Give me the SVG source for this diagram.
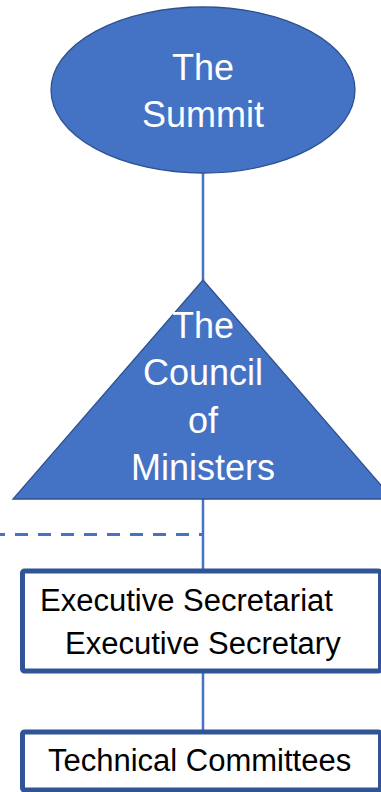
<svg xmlns="http://www.w3.org/2000/svg" width="381" height="792" viewBox="0 0 381 792">
  <style>
    .shape { fill: #4472C4; stroke: #2F528F; stroke-width: 1.3; }
    .wtxt { font-family: "Liberation Sans", Arial, sans-serif; font-size: 36px; fill: #FFFFFF; text-anchor: middle; }
    .btxt { font-family: "Liberation Sans", Arial, sans-serif; font-size: 31px; fill: #000000; }
    .box { fill: #FFFFFF; stroke: #2F5597; stroke-width: 5; }
    .conn { stroke: #4472C4; stroke-width: 2.5; fill: none; }
    .dash { stroke: #4472C4; stroke-width: 3; fill: none; stroke-dasharray: 13 10; stroke-dashoffset: 8; }
  </style>
  <rect width="381" height="792" fill="#FFFFFF"/>
  <g id="connectors">
    <line class="conn" x1="203" y1="172" x2="203" y2="281"/>
    <line class="conn" x1="203" y1="499" x2="203" y2="571"/>
    <line class="dash" x1="0" y1="534.5" x2="203" y2="534.5"/>
    <line class="conn" x1="203" y1="671" x2="203" y2="732"/>
  </g>
  <g id="summit">
    <ellipse class="shape" cx="203" cy="90" rx="152" ry="83"/>
    <text class="wtxt" x="203" y="80">The</text>
    <text class="wtxt" x="203" y="127">Summit</text>
  </g>
  <g id="council">
    <polygon class="shape" points="203,280 393,499 13,499"/>
    <text class="wtxt" x="203" y="338">The</text>
    <text class="wtxt" x="203" y="385">Council</text>
    <text class="wtxt" x="203" y="433">of</text>
    <text class="wtxt" x="203" y="480">Ministers</text>
  </g>
  <g id="secretariat">
    <rect class="box" x="22.5" y="571" width="358" height="100" rx="2"/>
    <text class="btxt" x="40" y="611">Executive Secretariat</text>
    <text class="btxt" x="65" y="654">Executive Secretary</text>
  </g>
  <g id="committees">
    <rect class="box" x="22.5" y="732" width="358" height="58" rx="2"/>
    <text class="btxt" x="48" y="771">Technical Committees</text>
  </g>
</svg>
